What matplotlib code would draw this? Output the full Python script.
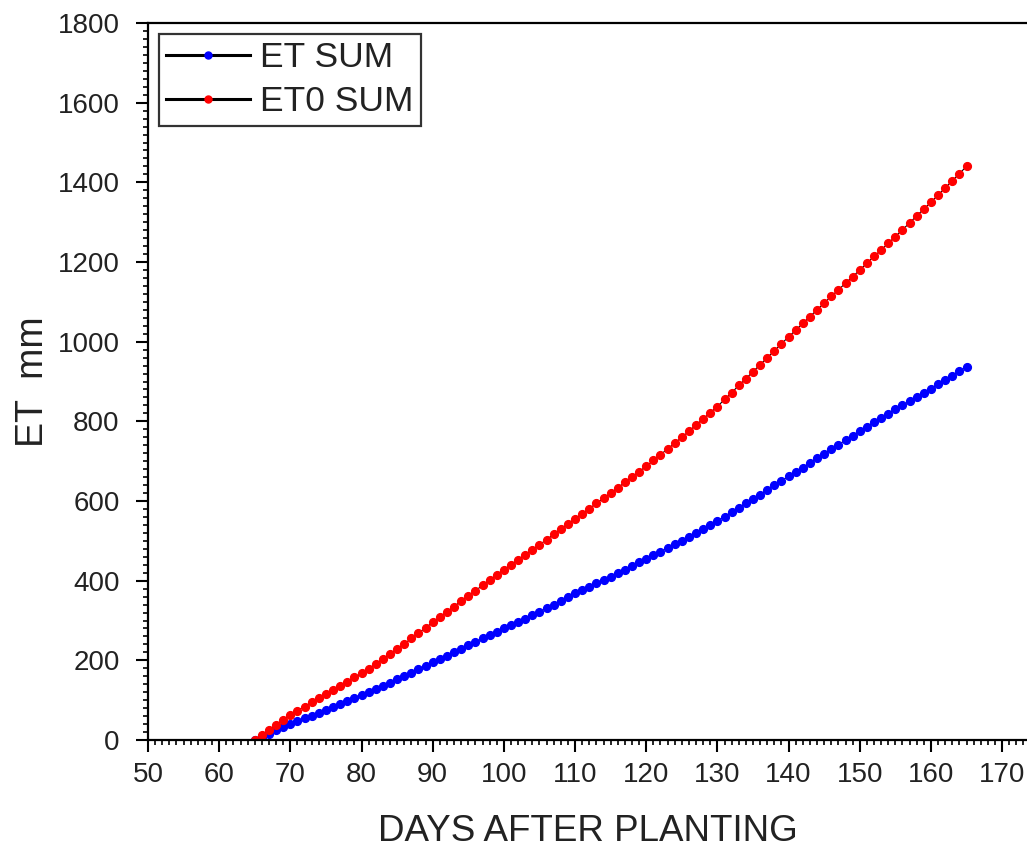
import matplotlib
matplotlib.use("Agg")
import matplotlib.pyplot as plt
from matplotlib.ticker import MultipleLocator

days = list(range(65, 166))

et_sum = [0, 8, 16, 24, 32, 40,
          47, 54, 61, 68, 75,
          82, 90, 97, 105, 112,
          120, 128, 136, 144, 152,
          161, 169, 178, 186, 195,
          204, 212, 221, 229, 238,
          246, 255, 263, 272, 280,
          288, 297, 305, 314, 322,
          331, 340, 350, 359, 368,
          376, 385, 393, 402, 410,
          419, 428, 437, 446, 455,
          464, 473, 482, 491, 500,
          510, 520, 530, 540, 550,
          561, 572, 583, 594, 605,
          616, 628, 639, 651, 662,
          673, 684, 696, 707, 718,
          730, 741, 753, 764, 776,
          787, 798, 808, 819, 830,
          840, 851, 861, 872, 882,
          893, 904, 915, 926, 937]

et0_sum = [0, 13, 26, 38, 51, 64,
           74, 84, 95, 105, 115,
           125, 136, 146, 157, 167,
           179, 191, 204, 216, 228,
           241, 255, 268, 282, 295,
           308, 322, 335, 349, 362,
           375, 388, 402, 415, 428,
           440, 453, 465, 478, 490,
           503, 516, 529, 542, 555,
           568, 581, 594, 607, 620,
           633, 647, 660, 674, 687,
           702, 716, 731, 745, 760,
           775, 791, 806, 822, 837,
           855, 872, 890, 907, 925,
           942, 960, 977, 995, 1012,
           1029, 1046, 1063, 1080, 1097,
           1114, 1130, 1147, 1163, 1180,
           1197, 1214, 1230, 1247, 1264,
           1281, 1298, 1316, 1333, 1350,
           1368, 1386, 1404, 1422, 1440]

series_labels = ["ET SUM", "ET0 SUM"]
x_label = "DAYS AFTER PLANTING"
y_label = "ET  mm"

plt.rcParams['font.family'] = ['Liberation Sans', 'DejaVu Sans']

fig = plt.figure(figsize=(10.27, 8.5), dpi=100)
ax = fig.add_axes([148/1027, 110/850, 1 - 148/1027, (740-23)/850])

ax.plot(days, et_sum, color='black', lw=0.8, marker='o', ms=5.6,
        mfc='#0000ff', mec='#0000ff', label=series_labels[0])
ax.plot(days, et0_sum, color='black', lw=0.8, marker='o', ms=5.6,
        mfc='#ff0000', mec='#ff0000', label=series_labels[1])

ax.set_xlim(50, 173.5)
ax.set_ylim(0, 1800)
ax.xaxis.set_major_locator(MultipleLocator(10))
ax.xaxis.set_minor_locator(MultipleLocator(1))
ax.yaxis.set_major_locator(MultipleLocator(200))
ax.yaxis.set_minor_locator(MultipleLocator(20))

for s in ['left', 'bottom', 'top']:
    ax.spines[s].set_linewidth(1.6)
ax.spines['right'].set_visible(False)

ax.tick_params(which='major', direction='out', length=8.5, width=1.5,
               labelsize=20, labelcolor='#222222', top=False, right=False)
ax.tick_params(which='minor', direction='out', length=3.6, width=1.2,
               top=False, right=False)
ax.tick_params(axis='y', which='major', pad=12)
ax.tick_params(axis='x', which='major', pad=7)

ax.set_xlabel(x_label, fontsize=26.5, color='#222222', labelpad=19)
ax.set_ylabel(y_label, fontsize=27, color='#222222', labelpad=5)

leg = ax.legend(loc='upper left', fontsize=25.5, frameon=True, fancybox=False,
                edgecolor='black', borderaxespad=0.3, borderpad=0.22,
                handlelength=2.35, handletextpad=0.3, labelspacing=0.3,
                markerscale=0.9)
leg.get_frame().set_linewidth(1.6)
for t in leg.get_texts():
    t.set_color('#222222')
for l in leg.get_lines():
    l.set_linewidth(2.2)

fig.savefig("out.png", dpi=100)
